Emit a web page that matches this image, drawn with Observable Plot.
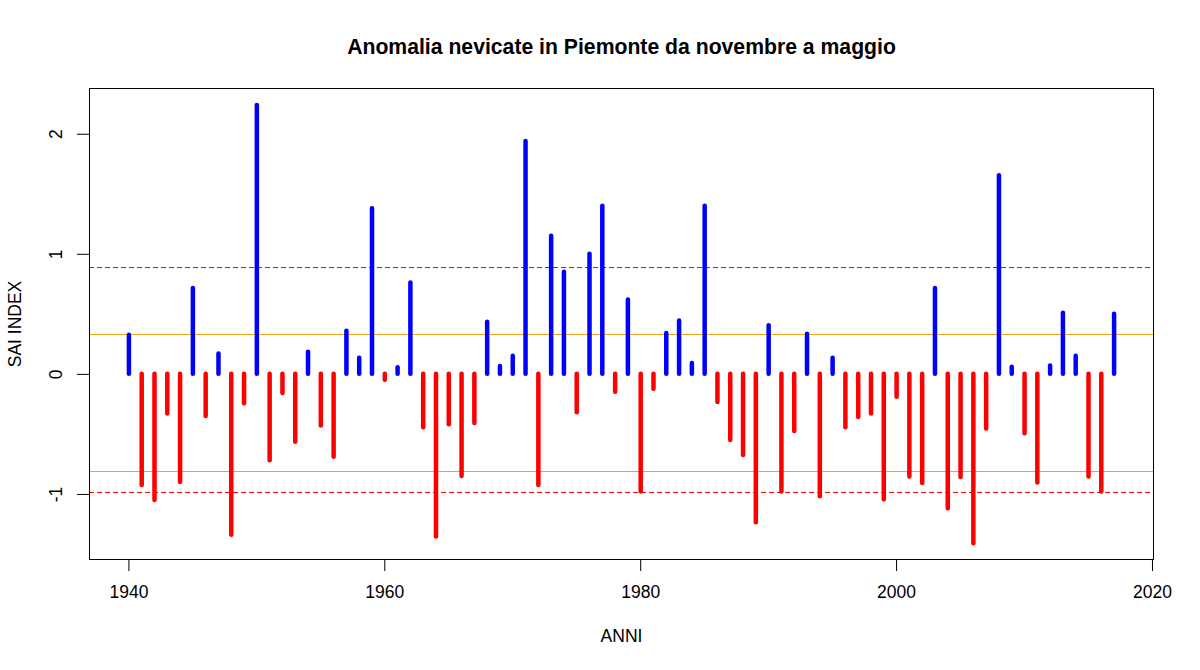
<!DOCTYPE html>
<html>
<head>
<meta charset="utf-8">
<script src="https://cdn.jsdelivr.net/npm/d3@7"></script>
<script src="https://cdn.jsdelivr.net/npm/@observablehq/plot@0.6"></script>
<style>
  html, body { margin: 0; padding: 0; background: #fff; }
  #chart { width: 1200px; height: 670px; }
  svg { font-family: "Liberation Sans", Arial, sans-serif; }
</style>
</head>
<body>
<div id="chart"></div>
<script>
const title = "Anomalia nevicate in Piemonte da novembre a maggio";
const xLabel = "ANNI";
const yLabel = "SAI INDEX";

const years = [
  1940,1941,1942,1943,1944,1945,1946,1947,1948,1949,
  1950,1951,1952,1953,1954,1955,1956,1957,1958,1959,
  1960,1961,1962,1963,1964,1965,1966,1967,1968,1969,
  1970,1971,1972,1973,1974,1975,1976,1977,1978,1979,
  1980,1981,1982,1983,1984,1985,1986,1987,1988,1989,
  1990,1991,1992,1993,1994,1995,1996,1997,1998,1999,
  2000,2001,2002,2003,2004,2005,2006,2007,2008,2009,
  2010,2011,2012,2013,2014,2015,2016,2017
];
const sai = [
  0.325,-0.925,-1.05,-0.33,-0.90,0.715,-0.35,0.17,-1.34,-0.245,
  2.24,-0.72,-0.16,-0.565,0.185,-0.43,-0.69,0.36,0.135,1.38,
  -0.05,0.055,0.76,-0.445,-1.355,-0.42,-0.85,-0.41,0.435,0.065,
  0.15,1.94,-0.925,1.15,0.85,-0.32,1.0,1.40,-0.15,0.62,
  -0.98,-0.125,0.34,0.445,0.09,1.40,-0.235,-0.55,-0.675,-1.235,
  0.405,-0.98,-0.475,0.335,-1.02,0.135,-0.445,-0.36,-0.33,-1.045,
  -0.19,-0.855,-0.91,0.715,-1.12,-0.86,-1.41,-0.455,1.655,0.06,
  -0.495,-0.905,0.07,0.51,0.15,-0.855,-0.98,0.50
];
const dashedLevels = [0.89, -0.985];
const solidLevels = [0.33, -0.81];
const xTicks = [1940, 1960, 1980, 2000, 2020];
const yTicks = [-1, 0, 1, 2];

const data = years.map((y, i) => ({year: y, value: sai[i]}));
const pos = data.filter(d => d.value >= 0);
const neg = data.filter(d => d.value < 0);

const chart = Plot.plot({
  width: 1200,
  height: 670,
  marginLeft: 89,
  marginRight: 47,
  marginTop: 88,
  marginBottom: 111,
  style: {fontFamily: '"Liberation Sans", Arial, sans-serif', background: "#fff"},
  x: {domain: [1936.92, 2020.08]},
  y: {domain: [-1.542, 2.381]},
  marks: [
    Plot.ruleY(solidLevels, {stroke: "#f2a516", strokeWidth: 1, shapeRendering: "crispEdges"}),
    Plot.ruleY(dashedLevels, {stroke: "#ff0000", strokeWidth: 1, strokeDasharray: "5,3", shapeRendering: "crispEdges"}),
    Plot.ruleX(pos, {x: "year", y1: 0, y2: "value", stroke: "#0000ff", strokeWidth: 4.5, strokeLinecap: "round"}),
    Plot.ruleX(neg, {x: "year", y1: 0, y2: "value", stroke: "#ff0000", strokeWidth: 4.5, strokeLinecap: "round"}),
    Plot.frame({stroke: "#000", strokeWidth: 1}),
    Plot.axisX({ticks: xTicks, tickSize: 12, tickPadding: 14, fontSize: 17.5, tickFormat: d => String(d), label: null, stroke: "#000", color: "#000"}),
    Plot.axisY({ticks: yTicks, tickSize: 12, tickFormat: () => "", label: null, stroke: "#000"}),
    Plot.text(yTicks, {y: d => d, text: d => String(d), frameAnchor: "left", dx: -33, rotate: -90, fontSize: 17.5, fill: "#000", textAnchor: "middle", lineAnchor: "middle"}),
    Plot.text([title], {frameAnchor: "top", dy: -41, fontSize: 21.2, fontWeight: "bold", fill: "#000", lineAnchor: "middle", textAnchor: "middle"}),
    Plot.text([xLabel], {frameAnchor: "bottom", dy: 77, fontSize: 17.5, fill: "#000", lineAnchor: "middle", textAnchor: "middle"}),
    Plot.text([yLabel], {frameAnchor: "left", dx: -74, rotate: -90, fontSize: 17.5, fill: "#000", textAnchor: "middle", lineAnchor: "middle"})
  ]
});
document.getElementById("chart").appendChild(chart);
</script>
</body>
</html>
